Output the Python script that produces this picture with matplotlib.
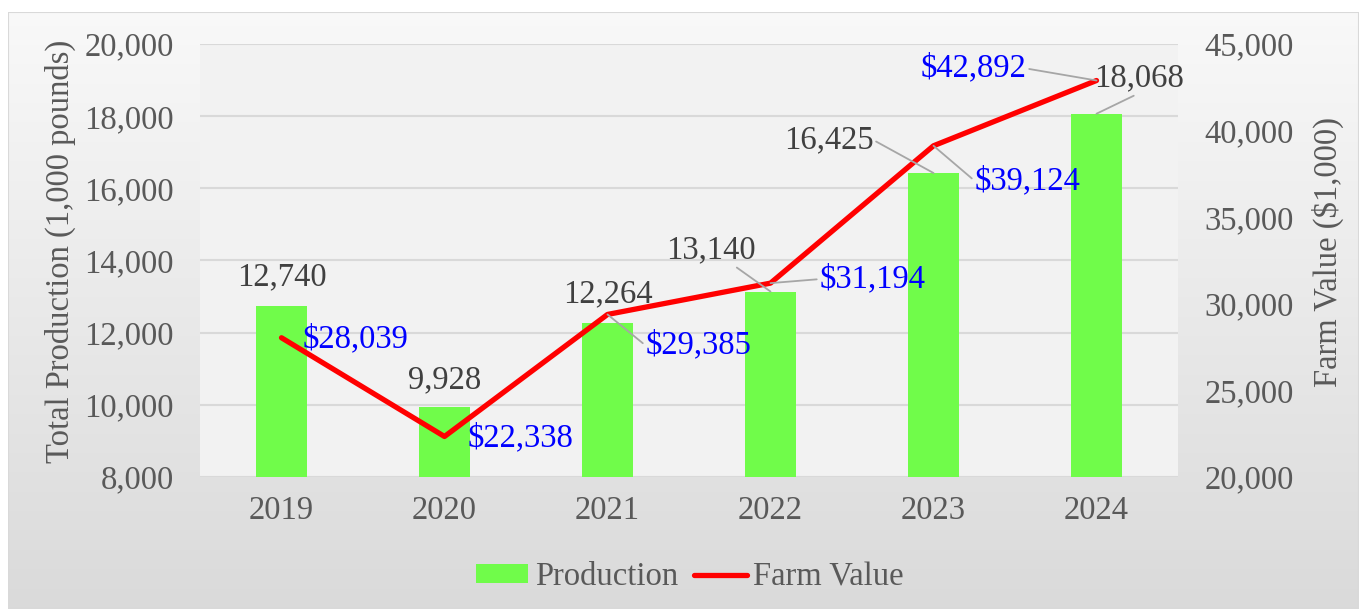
import matplotlib
matplotlib.use("Agg")
import matplotlib.pyplot as plt
import numpy as np
from matplotlib.patches import Rectangle, Patch
from matplotlib.lines import Line2D
from matplotlib.ticker import FuncFormatter

plt.rcParams["font.family"] = ["Liberation Serif", "DejaVu Serif"]

# Data.
years = ["2019", "2020", "2021", "2022", "2023", "2024"]
production = [12740, 9928, 12264, 13140, 16425, 18068]
farm_value = [28039, 22338, 29385, 31194, 39124, 42892]

# Label placement (pixel offsets from the mark) and leader-line anchors.
prod_offsets = [(0, 29), (0, 27), (0, 29), (-60, 42), (-105, 33), (43, 36)]
prod_leader = [None, None, None, (0.75, 0.0), (1.0, 0.5), (0.5, 0.0)]
value_offsets = [(74, -1), (76, -2), (91, -31), (102, 4), (94, -35), (-123, 12)]
value_leader = [None, None, (0.0, 0.5), (0.0, 0.5), (0.0, 0.5), (1.0, 0.5)]

TEXT = "#595959"
LABEL = "#404040"
GRID = "#d9d9d9"
FS = 23.5

W, H = 1361, 609
fig = plt.figure(figsize=(W / 100, H / 100), dpi=100, facecolor="white")

# Chart area with a soft vertical gradient and thin border.
bg = fig.add_axes([8 / W, 0, 1 - 10 / W, 1 - 12 / H], zorder=-5)
grad = np.linspace(0, 1, 256).reshape(-1, 1)
top = np.array([0.975, 0.975, 0.975])
bot = np.array([0.855, 0.855, 0.855])
img = top + (bot - top) * grad
bg.imshow(img[:, None, :].repeat(2, axis=1), aspect="auto", extent=(0, 1, 0, 1), origin="upper")
bg.add_patch(Rectangle((0, 0), 1, 1, fill=False, edgecolor=GRID, lw=1.5, transform=bg.transAxes))
bg.set_xlim(0, 1)
bg.set_ylim(0, 1)
bg.axis("off")

left, right, ptop, pbot = 200 / W, 1178 / W, 1 - 44 / H, 1 - 477 / H
ax = fig.add_axes([left, pbot, right - left, ptop - pbot])
ax.set_facecolor("#f2f2f2")
x = np.arange(len(years))
ax.bar(x, production, width=0.31, color="#70fc4a", zorder=2)
ax.set_xlim(-0.5, len(years) - 0.5)
ax.set_ylim(8000, 20000)
ax.set_yticks(np.arange(8000, 20001, 2000))
ax.yaxis.grid(True, color=GRID, lw=1.5, zorder=0)
ax.set_axisbelow(True)
for s in ax.spines.values():
    s.set_visible(False)
ax.set_xticks(x, years)
fmt = FuncFormatter(lambda v, p: f"{v:,.0f}")
ax.yaxis.set_major_formatter(fmt)
ax.tick_params(axis="both", length=0, labelsize=FS, labelcolor=TEXT)
ax.tick_params(axis="y", pad=19)
ax.tick_params(axis="x", pad=13)
ax.set_ylabel("Total Production (1,000 pounds)", fontsize=FS, color=TEXT)
ax.yaxis.set_label_coords(-0.127, 0.52)

ax2 = ax.twinx()
ax2.set_ylim(20000, 45000)
ax2.set_yticks(np.arange(20000, 45001, 5000))
ax2.yaxis.set_major_formatter(fmt)
ax2.plot(x, farm_value, color="#ff0000", lw=3.8, solid_capstyle="round",
         solid_joinstyle="round", zorder=3)
for s in ax2.spines.values():
    s.set_visible(False)
ax2.tick_params(axis="y", length=0, labelsize=FS, labelcolor=TEXT, pad=19)
ax2.set_ylabel("Farm Value ($1,000)", fontsize=FS, color=TEXT)
ax2.yaxis.set_label_coords(1.137, 0.52)
ax2.set_xlim(-0.5, len(years) - 0.5)


def label(target, tr, xi, yi, text, off, lead, color):
    kw = {}
    if lead is not None:
        kw["arrowprops"] = dict(arrowstyle="-", color="#a6a6a6", lw=1.3,
                                shrinkA=0, shrinkB=0, relpos=lead)
    target.annotate(text, xy=(xi, yi), xycoords=tr, xytext=off,
                    textcoords="offset pixels", ha="center", va="center",
                    fontsize=FS, color=color, zorder=5, **kw)


for i, v in enumerate(production):
    label(ax2, ax.transData, i, v, f"{v:,}", prod_offsets[i], prod_leader[i], LABEL)
for i, v in enumerate(farm_value):
    label(ax2, ax2.transData, i, v, f"${v:,}", value_offsets[i], value_leader[i], "#0000ff")

handles = [Patch(facecolor="#70fc4a", edgecolor="none", label="Production"),
           Line2D([0], [0], color="#ff0000", lw=3.8, solid_capstyle="round", label="Farm Value")]
fig.legend(handles=handles, loc="center", bbox_to_anchor=(690 / W, 1 - 577 / H), ncol=2,
           frameon=False, fontsize=FS, labelcolor=TEXT, handlelength=1.6,
           handletextpad=0.2, columnspacing=0.5, handleheight=0.5)

fig.savefig("out.png", dpi=100, facecolor="white")
